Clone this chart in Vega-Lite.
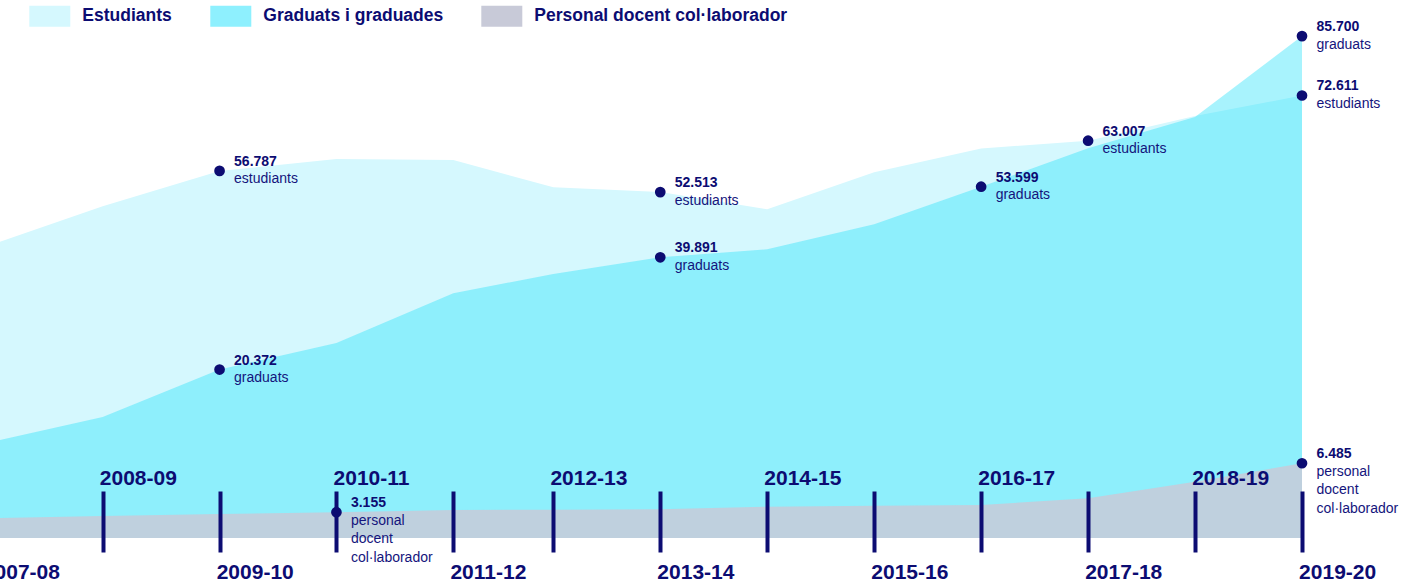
{
  "$schema": "https://vega.github.io/schema/vega-lite/v6.json",
  "width": 1424,
  "height": 538,
  "autosize": {"type": "none"},
  "padding": {"left": 0, "top": 0, "right": 0, "bottom": 47},
  "background": "#ffffff",
  "config": {
    "view": {"stroke": null},
    "font": "Liberation Sans",
    "locale": {"number": {"decimal": ",", "thousands": ".", "grouping": [3], "currency": ["", " €"]}}
  },
  "data": {
    "values": [
      {"curs": "2007-08", "any": 2007, "serie": "Estudiants", "valor": 41900},
      {"curs": "2008-09", "any": 2008, "serie": "Estudiants", "valor": 49700},
      {"curs": "2009-10", "any": 2009, "serie": "Estudiants", "valor": 56787, "etiqueta": "estudiants"},
      {"curs": "2010-11", "any": 2010, "serie": "Estudiants", "valor": 59200},
      {"curs": "2011-12", "any": 2011, "serie": "Estudiants", "valor": 59000},
      {"curs": "2012-13", "any": 2012, "serie": "Estudiants", "valor": 53500},
      {"curs": "2013-14", "any": 2013, "serie": "Estudiants", "valor": 52513, "etiqueta": "estudiants"},
      {"curs": "2014-15", "any": 2014, "serie": "Estudiants", "valor": 49100},
      {"curs": "2015-16", "any": 2015, "serie": "Estudiants", "valor": 56500},
      {"curs": "2016-17", "any": 2016, "serie": "Estudiants", "valor": 61400},
      {"curs": "2017-18", "any": 2017, "serie": "Estudiants", "valor": 63007, "etiqueta": "estudiants"},
      {"curs": "2018-19", "any": 2018, "serie": "Estudiants", "valor": 68200},
      {"curs": "2019-20", "any": 2019, "serie": "Estudiants", "valor": 72611, "etiqueta": "estudiants"},
      {"curs": "2007-08", "any": 2007, "serie": "Graduats i graduades", "valor": 9570},
      {"curs": "2008-09", "any": 2008, "serie": "Graduats i graduades", "valor": 13200},
      {"curs": "2009-10", "any": 2009, "serie": "Graduats i graduades", "valor": 20372, "etiqueta": "graduats"},
      {"curs": "2010-11", "any": 2010, "serie": "Graduats i graduades", "valor": 24700},
      {"curs": "2011-12", "any": 2011, "serie": "Graduats i graduades", "valor": 33300},
      {"curs": "2012-13", "any": 2012, "serie": "Graduats i graduades", "valor": 36800},
      {"curs": "2013-14", "any": 2013, "serie": "Graduats i graduades", "valor": 39891, "etiqueta": "graduats"},
      {"curs": "2014-15", "any": 2014, "serie": "Graduats i graduades", "valor": 41400},
      {"curs": "2015-16", "any": 2015, "serie": "Graduats i graduades", "valor": 46200},
      {"curs": "2016-17", "any": 2016, "serie": "Graduats i graduades", "valor": 53599, "etiqueta": "graduats"},
      {"curs": "2017-18", "any": 2017, "serie": "Graduats i graduades", "valor": 61450},
      {"curs": "2018-19", "any": 2018, "serie": "Graduats i graduades", "valor": 68000},
      {"curs": "2019-20", "any": 2019, "serie": "Graduats i graduades", "valor": 85700, "etiqueta": "graduats"},
      {"curs": "2007-08", "any": 2007, "serie": "Personal docent col·laborador", "valor": 2740},
      {"curs": "2008-09", "any": 2008, "serie": "Personal docent col·laborador", "valor": 2900},
      {"curs": "2009-10", "any": 2009, "serie": "Personal docent col·laborador", "valor": 3030},
      {"curs": "2010-11", "any": 2010, "serie": "Personal docent col·laborador", "valor": 3155, "etiqueta": "personal\ndocent\ncol·laborador"},
      {"curs": "2011-12", "any": 2011, "serie": "Personal docent col·laborador", "valor": 3300},
      {"curs": "2012-13", "any": 2012, "serie": "Personal docent col·laborador", "valor": 3330},
      {"curs": "2013-14", "any": 2013, "serie": "Personal docent col·laborador", "valor": 3350},
      {"curs": "2014-15", "any": 2014, "serie": "Personal docent col·laborador", "valor": 3530},
      {"curs": "2015-16", "any": 2015, "serie": "Personal docent col·laborador", "valor": 3600},
      {"curs": "2016-17", "any": 2016, "serie": "Personal docent col·laborador", "valor": 3645},
      {"curs": "2017-18", "any": 2017, "serie": "Personal docent col·laborador", "valor": 4100},
      {"curs": "2018-19", "any": 2018, "serie": "Personal docent col·laborador", "valor": 5230},
      {"curs": "2019-20", "any": 2019, "serie": "Personal docent col·laborador", "valor": 6485, "etiqueta": "personal\ndocent\ncol·laborador"}
    ]
  },
  "encoding": {
    "x": {
      "field": "any",
      "type": "quantitative",
      "scale": {"domain": [2007, 2008, 2011, 2012, 2019], "range": [-14.2, 102.7, 453.3, 553.3, 1302], "nice": false, "zero": false},
      "axis": {
        "values": [2007, 2008, 2009, 2010, 2011, 2012, 2013, 2014, 2015, 2016, 2017, 2018, 2019],
        "labelExpr": "datum.value + '-' + format((datum.value + 1) % 100, '02d')",
        "title": null,
        "domain": false,
        "grid": false,
        "offset": -47,
        "ticks": true,
        "tickSize": 61,
        "tickWidth": 4,
        "tickColor": "#0c0c72",
        "labelFont": "Liberation Sans",
        "labelFontSize": 21,
        "labelFontWeight": "bold",
        "labelColor": "#0c0c72",
        "labelAlign": "left",
        "labelBaseline": "alphabetic",
        "labelOffset": -3.4,
        "labelPadding": {"condition": {"test": "datum.value % 2 === 0", "value": -68}, "value": 26.3},
        "labelOverlap": false,
        "labelFlush": false,
        "labelBound": false,
        "zindex": 1
      }
    }
  },
  "layer": [
    {
      "transform": [{"filter": "datum.serie !== 'Personal docent col·laborador'"}],
      "encoding": {
        "y": {
          "field": "valor",
          "type": "quantitative",
          "stack": null,
          "axis": null,
          "scale": {"type": "pow", "exponent": 0.76, "domain": [0, 93900], "nice": false, "zero": true}
        }
      },
      "layer": [
        {
          "transform": [{"filter": "datum.serie === 'Estudiants'"}],
          "mark": {"type": "area", "opacity": 1},
          "encoding": {
            "fill": {
              "field": "serie",
              "type": "nominal",
              "scale": {
                "domain": ["Estudiants", "Graduats i graduades", "Personal docent col·laborador"],
                "range": ["#d5f8fe", "#8ef0fe", "#c8cad8"]
              },
              "legend": {
                "title": null,
                "orient": "none",
                "legendX": 29.3,
                "legendY": -4.2,
                "direction": "horizontal",
                "symbolType": "M-1,-0.512H1V0.512H-1Z",
                "symbolSize": 1681,
                "symbolStrokeWidth": 0,
                "symbolOpacity": 1,
                "labelFont": "Liberation Sans",
                "labelFontSize": 17.5,
                "labelFontWeight": "bold",
                "labelColor": "#0c0c72",
                "labelOffset": 12,
                "columnPadding": 38,
                "padding": 0,
                "labelLimit": 400
              }
            }
          }
        },
        {
          "transform": [{"filter": "datum.serie === 'Graduats i graduades'"}],
          "mark": {"type": "area", "fill": "#1adffa", "opacity": 0.38}
        },
        {
          "transform": [{"filter": "isValid(datum.etiqueta)"}],
          "mark": {"type": "circle", "size": 115, "color": "#0c0c72", "opacity": 1}
        },
        {
          "transform": [{"filter": "isValid(datum.etiqueta)"}],
          "mark": {"type": "text", "align": "left", "baseline": "alphabetic", "dx": 14.5, "dy": -5, "fontSize": 14, "fontWeight": "bold", "color": "#0c0c72"},
          "encoding": {"text": {"field": "valor", "type": "quantitative", "format": ","}}
        },
        {
          "transform": [{"filter": "isValid(datum.etiqueta)"}],
          "mark": {"type": "text", "align": "left", "baseline": "alphabetic", "dx": 14.5, "dy": 12.5, "fontSize": 14, "color": "#14147c", "lineBreak": "\n", "lineHeight": 18.5},
          "encoding": {"text": {"field": "etiqueta", "type": "nominal"}}
        }
      ]
    },
    {
      "transform": [{"filter": "datum.serie === 'Personal docent col·laborador'"}],
      "encoding": {
        "y": {
          "field": "valor",
          "type": "quantitative",
          "stack": null,
          "axis": null,
          "scale": {"type": "linear", "domain": [1400, 38000], "nice": false, "zero": false}
        }
      },
      "layer": [
        {"mark": {"type": "area", "fill": "#c8cad8", "opacity": 0.845}},
        {
          "transform": [{"filter": "isValid(datum.etiqueta)"}],
          "mark": {"type": "circle", "size": 115, "color": "#0c0c72", "opacity": 1}
        },
        {
          "transform": [{"filter": "isValid(datum.etiqueta)"}],
          "mark": {"type": "text", "align": "left", "baseline": "alphabetic", "dx": 14.5, "dy": -5, "fontSize": 14, "fontWeight": "bold", "color": "#0c0c72"},
          "encoding": {"text": {"field": "valor", "type": "quantitative", "format": ","}}
        },
        {
          "transform": [{"filter": "isValid(datum.etiqueta)"}],
          "mark": {"type": "text", "align": "left", "baseline": "alphabetic", "dx": 14.5, "dy": 12.5, "fontSize": 14, "color": "#14147c", "lineBreak": "\n", "lineHeight": 18.5},
          "encoding": {"text": {"field": "etiqueta", "type": "nominal"}}
        }
      ]
    }
  ],
  "resolve": {"scale": {"y": "independent"}}
}
